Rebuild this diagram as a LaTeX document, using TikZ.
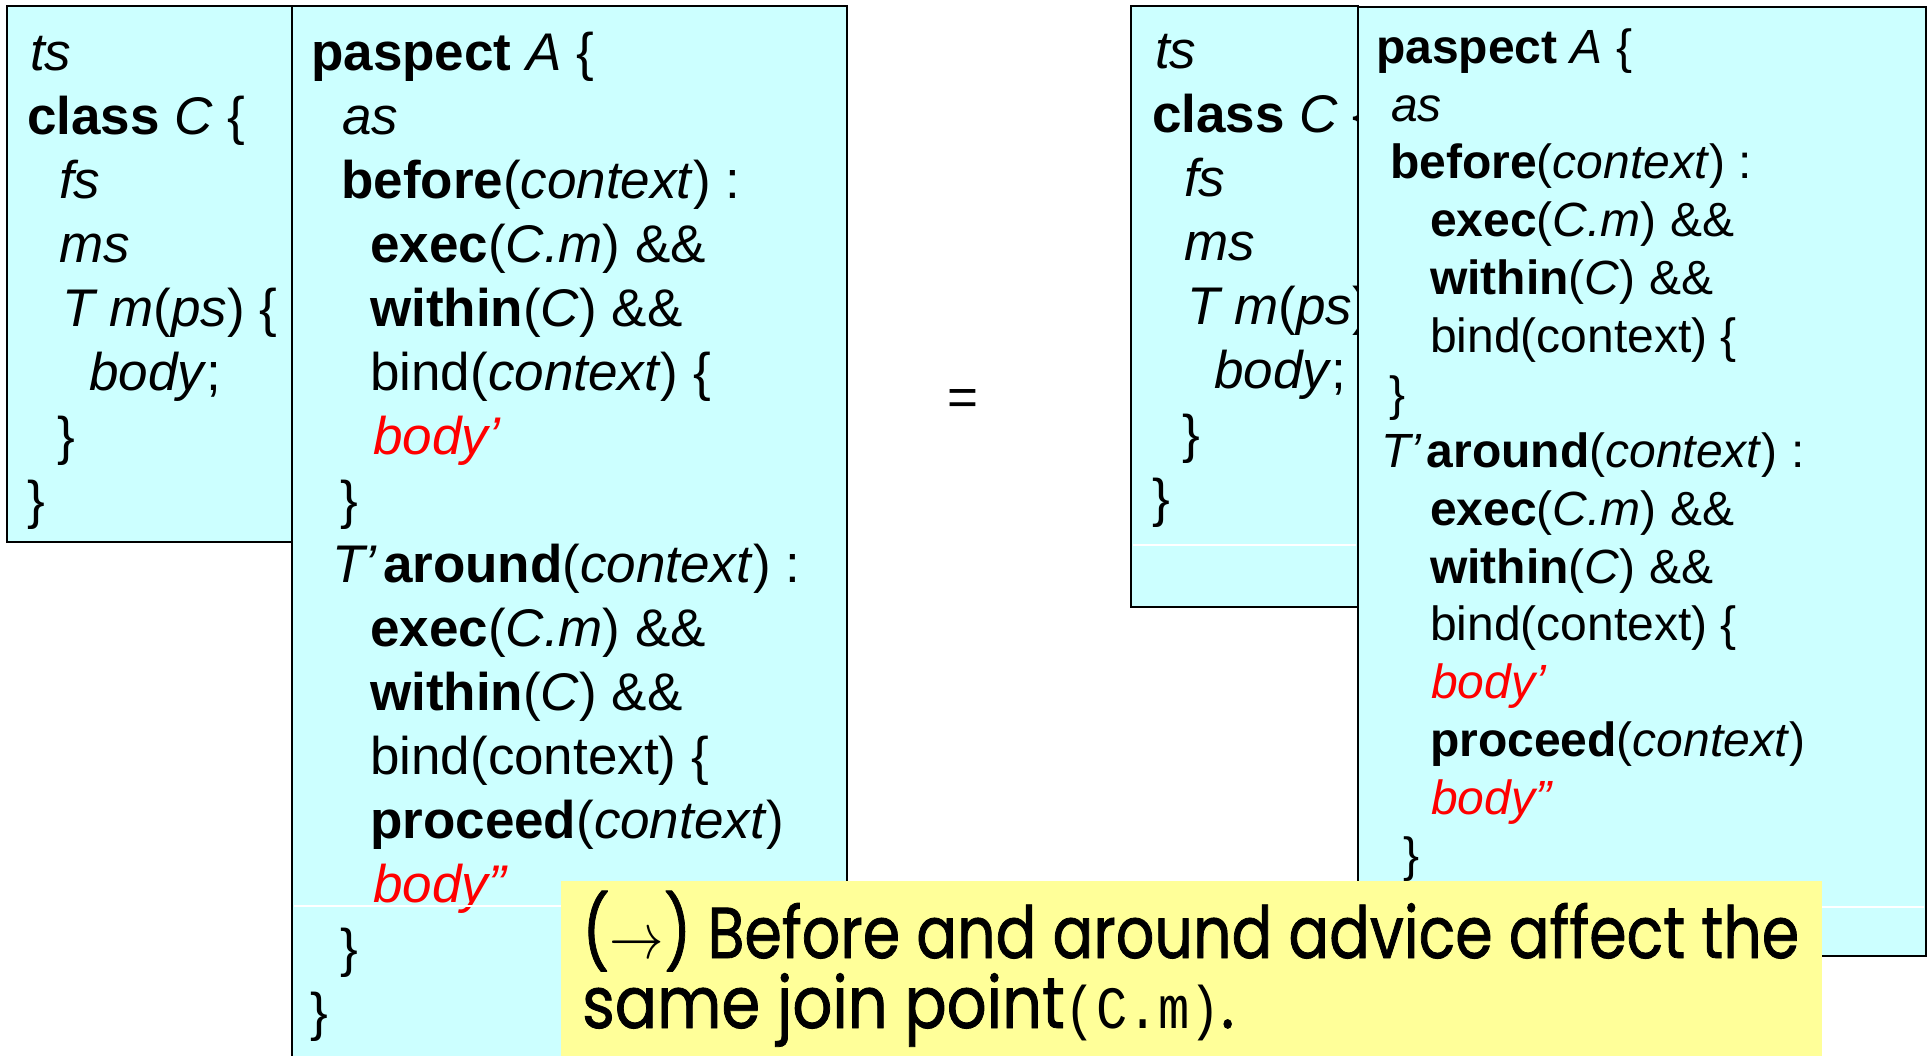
\documentclass[tikz,border=0pt]{standalone}
\usepackage{fontspec}
\usepackage{graphicx}
\setmainfont{Liberation Sans}
\newfontfamily\notefont[FakeBold=1.2]{Poppins}
\newfontfamily\codemono{Liberation Mono}
\definecolor{boxcyan}{HTML}{CCFFFF}
\definecolor{noteyellow}{HTML}{FFFF99}

% code markup
\newcommand\kwd[1]{\textbf{#1}}
\newcommand\ident[1]{\textit{#1}}

% long thin arrow for the remark
\newcommand\notearrow{{\fontsize{10}{12}\selectfont\scalebox{6.5}{$\rightarrow$}}}

% squeeze a line horizontally to a given width (in pt)
\newsavebox\fitbox
\newdimen\fitdim
\newcommand\fitwidth[2]{\sbox\fitbox{#2}\fitdim=\wd\fitbox
  \pgfmathsetmacro\fitratio{#1/\fitdim}\scalebox{\fitratio}[1]{\usebox\fitbox}}

\tikzset{
  codebox/.style={draw=black, line width=2.2pt, fill=boxcyan},
  codeL/.style={anchor=base west, inner sep=0pt, font=\fontsize{53}{64}\selectfont},
  codeS/.style={anchor=base west, inner sep=0pt, font=\fontsize{48}{58}\selectfont},
  seam/.style={draw=white, line width=1.2pt},
  hot/.style={text=red},
  noteline/.style={anchor=base west, inner sep=0pt, font=\notefont\fontsize{72}{80}\selectfont},
}

\begin{document}
\begin{tikzpicture}[x=1pt, y=-1pt]
\useasboundingbox (0,0) rectangle (1930,1055);
\fill[white] (0,0) rectangle (1930,1055);

% ---- class C (left) ----
\draw[codebox] (7,6) rectangle (293,542);
\node[codeL] (a1) at (30,70)  {\ident{ts}};
\node[codeL] (a2) at (27,134) {\kwd{class} \ident{C} \{};
\node[codeL] (a3) at (59,198) {\ident{fs}};
\node[codeL] (a4) at (59,262) {\ident{ms}};
\node[codeL] (a5) at (62,326) {\ident{T m}(\ident{ps}) \{};
\node[codeL] (a6) at (89,390) {\ident{body};};
\node[codeL] (a7) at (57,454) {\}};
\node[codeL] (a8) at (27,518) {\}};

% ---- paspect A (left) ----
\draw[codebox] (292,6) rectangle (847,1070);
\node[codeL] (p1)  at (311,70)   {\kwd{paspect} \ident{A} \{};
\node[codeL] (p2)  at (342,134)  {\ident{as}};
\node[codeL] (p3)  at (341,198)  {\kwd{before}(\ident{context}) :};
\node[codeL] (p4)  at (370,262)  {\kwd{exec}(\ident{C.m}) \&\&};
\node[codeL] (p5)  at (370,326)  {\kwd{within}(\ident{C}) \&\&};
\node[codeL] (p6)  at (370,390)  {bind(\ident{context}) \{};
\node[codeL,hot] (p7) at (373,454) {\ident{body’}};
\node[codeL] (p8)  at (340,518)  {\}};
\node[codeL] (p9)  at (332,582)  {\ident{T’}\hspace{6pt}\kwd{around}(\ident{context}) :};
\node[codeL] (p10) at (370,646)  {\kwd{exec}(\ident{C.m}) \&\&};
\node[codeL] (p11) at (370,710)  {\kwd{within}(\ident{C}) \&\&};
\node[codeL] (p12) at (370,774)  {bind(context) \{};
\node[codeL] (p13) at (370,838)  {\kwd{proceed}(\ident{context})};
\node[codeL,hot] (p14) at (373,902) {\ident{body”}};
\node[codeL] (p15) at (340,966)  {\}};
\node[codeL] (p16) at (310,1030) {\}};
\draw[seam] (294,906) -- (845,906);

% ---- equals sign ----
\node[font=\fontsize{53}{64}\selectfont, inner sep=0pt] (eq) at (963,403) {=};

% ---- class C (right) ----
\draw[codebox] (1131,6) rectangle (1358,607);
\node[codeL] (c1) at (1155,68)  {\ident{ts}};
\node[codeL] (c2) at (1152,132) {\kwd{class} \ident{C} \{};
\node[codeL] (c3) at (1184,196) {\ident{fs}};
\node[codeL] (c4) at (1184,260) {\ident{ms}};
\node[codeL] (c5) at (1187,324) {\ident{T m}(\ident{ps}) \{};
\node[codeL] (c6) at (1214,388) {\ident{body};};
\node[codeL] (c7) at (1182,452) {\}};
\node[codeL] (c8) at (1152,516) {\}};
\draw[seam] (1133,545) -- (1356,545);

% ---- combined paspect A (right) ----
\draw[codebox] (1358,7) rectangle (1926,956);
\node[codeS] (q1)  at (1376,63)   {\kwd{paspect} \ident{A} \{};
\node[codeS] (q2)  at (1391,121)  {\ident{as}};
\node[codeS] (q3)  at (1390,178)  {\kwd{before}(\ident{context}) :};
\node[codeS] (q4)  at (1430,236)  {\kwd{exec}(\ident{C.m}) \&\&};
\node[codeS] (q5)  at (1430,294)  {\kwd{within}(\ident{C}) \&\&};
\node[codeS] (q6)  at (1430,352)  {bind(context) \{};
\node[codeS] (q7)  at (1389,410)  {\}};
\node[codeS] (q8)  at (1381,467)  {\ident{T’}\hspace{5pt}\kwd{around}(\ident{context}) :};
\node[codeS] (q9)  at (1430,525)  {\kwd{exec}(\ident{C.m}) \&\&};
\node[codeS] (q10) at (1430,583)  {\kwd{within}(\ident{C}) \&\&};
\node[codeS] (q11) at (1430,640)  {bind(context) \{};
\node[codeS,hot] (q12) at (1431,698) {\ident{body’}};
\node[codeS] (q13) at (1430,756)  {\kwd{proceed}(\ident{context})};
\node[codeS,hot] (q14) at (1431,814) {\ident{body”}};
\node[codeS] (q15) at (1403,871)  {\}};
\draw[seam] (1360,907) -- (1924,907);

% ---- remark ----
\fill[noteyellow] (561,881) rectangle (1822,1070);
\node[noteline] (n1) at (582,958)  {\fitwidth{1217}{(\notearrow) Before and around advice affect the}};
\node[noteline] (n2) at (582,1028) {\fitwidth{652}{same join point{\codemono\fontsize{60}{70}\selectfont(C.m)}.}};
\end{tikzpicture}
\end{document}
